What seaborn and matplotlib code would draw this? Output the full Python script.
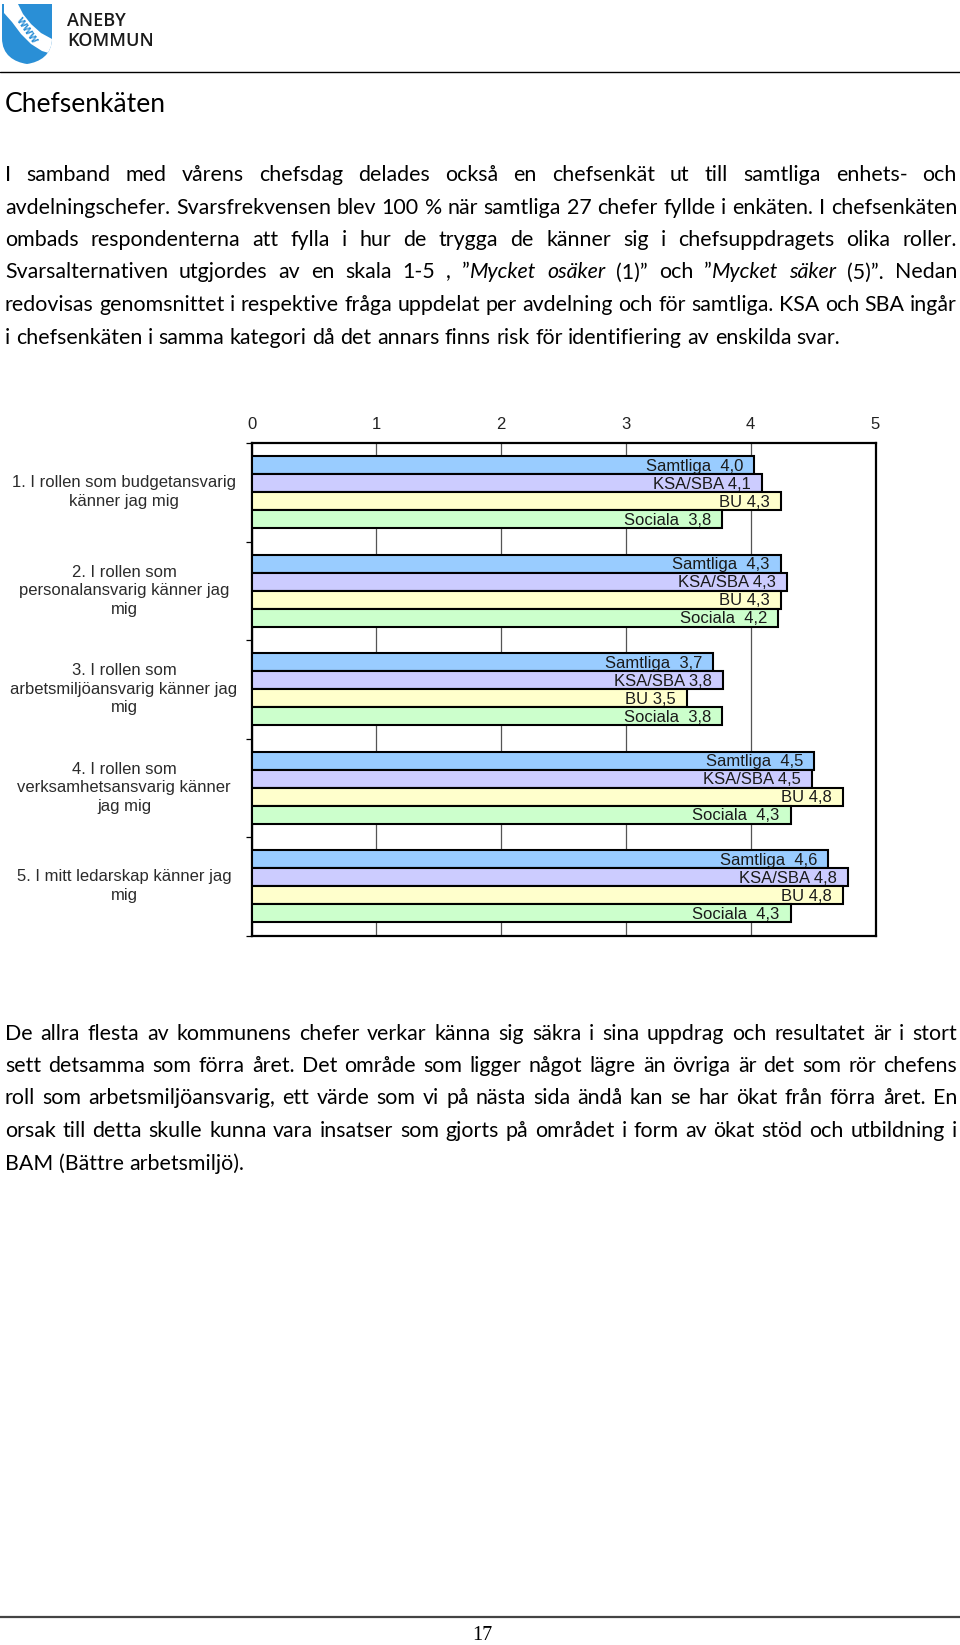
import numpy as np
import pandas as pd
import matplotlib
matplotlib.use("Agg")
import matplotlib.pyplot as plt
import seaborn as sns
from matplotlib.path import Path
from matplotlib.patches import PathPatch, Polygon

# ---------------- data ----------------
questions = [
    "1. I rollen som budgetansvarig\nkänner jag mig",
    "2. I rollen som\npersonalansvarig känner jag\nmig",
    "3. I rollen som\narbetsmiljöansvarig känner jag\nmig",
    "4. I rollen som\nverksamhetsansvarig känner\njag mig",
    "5. I mitt ledarskap känner jag\nmig",
]
groups = ["Samtliga", "KSA/SBA", "BU", "Sociala"]
group_label_names = ["Samtliga  ", "KSA/SBA ", "BU ", "Sociala  "]

# bar lengths
samtliga = [4.03, 4.24, 3.70, 4.51, 4.62]
ksa_sba = [4.09, 4.29, 3.78, 4.49, 4.78]
bu = [4.24, 4.24, 3.49, 4.74, 4.74]
sociala = [3.77, 4.22, 3.77, 4.32, 4.32]

# values printed in the labels
samtliga_shown = [4.0, 4.3, 3.7, 4.5, 4.6]
ksa_sba_shown = [4.1, 4.3, 3.8, 4.5, 4.8]
bu_shown = [4.3, 4.3, 3.5, 4.8, 4.8]
sociala_shown = [3.8, 4.2, 3.8, 4.3, 4.3]

x_ticks = [0, 1, 2, 3, 4, 5]
colors = ["#99CCFF", "#CCCCFF", "#FFFFCC", "#CCFFCC"]

title = "Chefsenkäten"
para1 = [
    "I samband med vårens chefsdag delades också en chefsenkät ut till samtliga enhets- och",
    "avdelningschefer. Svarsfrekvensen blev 100 % när samtliga 27 chefer fyllde i enkäten. I chefsenkäten",
    "ombads respondenterna att fylla i hur de trygga de känner sig i chefsuppdragets olika roller.",
    "Svarsalternativen utgjordes av en skala 1-5 , ”*Mycket* *osäker* (1)” och ”*Mycket* *säker* (5)”. Nedan",
    "redovisas genomsnittet i respektive fråga uppdelat per avdelning och för samtliga. KSA och SBA ingår",
    "i chefsenkäten i samma kategori då det annars finns risk för identifiering av enskilda svar.",
]
para2 = [
    "De allra flesta av kommunens chefer verkar känna sig säkra i sina uppdrag och resultatet är i stort",
    "sett detsamma som förra året. Det område som ligger något lägre än övriga är det som rör chefens",
    "roll som arbetsmiljöansvarig, ett värde som vi på nästa sida ändå kan se har ökat från förra året. En",
    "orsak till detta skulle kunna vara insatser som gjorts på området i form av ökat stöd och utbildning i",
    "BAM (Bättre arbetsmiljö).",
]

# ---------------- page ----------------
W, H = 960, 1645
sns.set_theme(style="white")
plt.rcParams["font.family"] = ["Liberation Sans", "DejaVu Sans"]
BODY = ["Lato", "DejaVu Sans"]

fig = plt.figure(figsize=(W / 100, H / 100), dpi=100)
fig.patch.set_facecolor("white")
page = fig.add_axes([0, 0, 1, 1], zorder=0)
page.set_xlim(0, W)
page.set_ylim(H, 0)
page.axis("off")
R = fig.canvas.get_renderer()


def text_width(s, size, family, style="normal"):
    t = page.text(0, 0, s, fontsize=size, family=family, style=style)
    w = t.get_window_extent(R).width
    t.remove()
    return w


# calibrate body font size on the non-justified last line of paragraph 1
body_size = 10 * 832 / text_width(para1[-1], 10, BODY)
space_w = text_width("a a", body_size, BODY) - text_width("aa", body_size, BODY)


def words_of(line):
    out = []
    italic = False
    for raw in line.split(" "):
        parts = raw.split("*")
        segs = []
        for k, p in enumerate(parts):
            if k > 0:
                italic = not italic
            if p:
                segs.append((p, italic))
        out.append(segs)
    return out


def layout_line(line, y, x0, x1, justify):
    words = words_of(line)
    placed, widths = [], []
    for segs in words:
        items, wsum = [], 0
        for s, it in segs:
            t = page.text(0, y, s, fontsize=body_size, family=BODY,
                          style="italic" if it else "normal",
                          ha="left", va="baseline", color="black")
            w = t.get_window_extent(R).width
            items.append((t, w))
            wsum += w
        placed.append(items)
        widths.append(wsum)
    gap = (x1 - x0 - sum(widths)) / (len(words) - 1) if (justify and len(words) > 1) else space_w
    x = x0
    for items, wsum in zip(placed, widths):
        xx = x
        for t, w in items:
            t.set_x(xx)
            xx += w
        x += wsum + gap


# header logo
shield = Path(
    [(2, 4), (52, 4), (52, 38), (52, 55), (40, 62), (27, 64), (14, 62), (2, 55), (2, 38), (2, 4)],
    [Path.MOVETO, Path.LINETO, Path.LINETO, Path.CURVE4, Path.CURVE4, Path.CURVE4,
     Path.CURVE4, Path.CURVE4, Path.CURVE4, Path.CLOSEPOLY],
)
sp = PathPatch(shield, facecolor="#2A8FD6", edgecolor="none")
page.add_patch(sp)
band = Polygon([(4, 4), (18, 4), (23, 14), (31, 24), (41, 33), (52, 39), (52, 54), (42, 51),
                (31, 44), (21, 34), (12, 22), (4, 13)], closed=True, facecolor="white", edgecolor="none")
page.add_patch(band)
band.set_clip_path(sp)
page.text(27, 30, "www", fontsize=8.5, color="#2A8FD6", rotation=-55, ha="center", va="center",
          family=["Open Sans", "DejaVu Sans"], fontweight="bold")
page.text(67, 26, "ANEBY", fontsize=13, family=["Open Sans", "DejaVu Sans"], fontweight="semibold",
          ha="left", va="baseline", color="#1a1a1a")
page.text(67, 46, "KOMMUN", fontsize=13, family=["Open Sans", "DejaVu Sans"], fontweight="semibold",
          ha="left", va="baseline", color="#1a1a1a")
page.plot([0, W], [72, 72], color="black", lw=1.0)

# title
title_size = 10 * 161 / text_width(title, 10, BODY)
page.text(5, 112, title, fontsize=title_size, family=BODY, ha="left", va="baseline", color="black")

# paragraph 1
y0, dy = 181, 32.5
for i, line in enumerate(para1):
    layout_line(line, y0 + i * dy, 5, 957, justify=(i < len(para1) - 1))
# paragraph 2
y0 = 1039.5
for i, line in enumerate(para2):
    layout_line(line, y0 + i * dy, 5, 957, justify=(i < len(para2) - 1))

# footer
page.plot([0, W], [1617, 1617], color="#444444", lw=1.6)
page.text(482, 1635, "17", fontsize=14.5, family=["Liberation Serif", "DejaVu Serif"],
          ha="center", va="center", color="black")

# ---------------- chart ----------------
df = pd.concat([
    pd.DataFrame({"question": questions, "group": g, "value": v})
    for g, v in zip(groups, [samtliga, ksa_sba, bu, sociala])
], ignore_index=True)
shown_all = [samtliga_shown, ksa_sba_shown, bu_shown, sociala_shown]

ax = fig.add_axes([251.5 / W, 1 - 935.5 / H, 624 / W, 492.5 / H], zorder=2)
sns.barplot(data=df, x="value", y="question", hue="group", hue_order=groups, order=questions,
            orient="h", palette=colors, saturation=1, width=0.73, edgecolor="black",
            linewidth=1.5, errorbar=None, legend=False, ax=ax, zorder=3)
ax.set_facecolor("white")
ax.set_xlim(0, 5)
ax.set_ylim(len(questions) - 0.5, -0.5)
ax.set_xticks(x_ticks)
ax.set_xticklabels([str(t) for t in x_ticks])
ax.xaxis.tick_top()
ax.tick_params(axis="x", length=0, pad=8, labelsize=12, labelcolor="#222222")
ax.set_xlabel("")
ax.set_ylabel("")
ax.set_yticks(np.arange(-0.5, len(questions), 1.0))
ax.set_yticklabels([])
ax.tick_params(axis="y", left=True, length=4, width=0.9, direction="out", color="black")
ax.grid(axis="x", color="#555555", lw=0.9)
ax.grid(axis="y", visible=False)
ax.set_axisbelow(True)
for s in ax.spines.values():
    s.set_visible(True)
    s.set_color("black")
    s.set_linewidth(1.6)

for i, q in enumerate(questions):
    ax.text(-0.2043, i, q, transform=ax.get_yaxis_transform(), ha="center", va="center",
            fontsize=12, color="#2b2b2b", linespacing=1.3, multialignment="center")

for cont, name, shown in zip(ax.containers, group_label_names, shown_all):
    for bar, sv in zip(cont, shown):
        txt = f"{name}{sv:.1f}".replace(".", ",")
        ax.annotate(txt, xy=(bar.get_width(), bar.get_y() + bar.get_height() / 2),
                    xytext=(-8, -0.8), textcoords="offset points", ha="right", va="center",
                    fontsize=12, color="#1a1a1a", zorder=4)

fig.savefig("out.png", dpi=100, facecolor="white")
